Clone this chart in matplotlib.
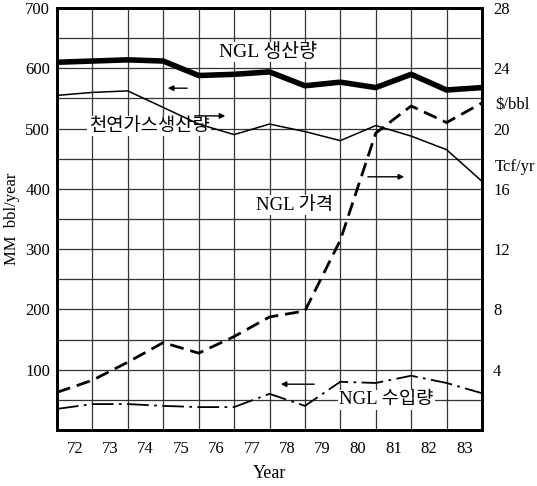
import numpy as np
import matplotlib
matplotlib.use('Agg')
import matplotlib.pyplot as plt
import matplotlib.transforms as mtransforms

# datos (posiciones en los limites entre años)
years = [71.5, 72.5, 73.5, 74.5, 75.5, 76.5, 77.5, 78.5, 79.5, 80.5, 81.5, 82.5, 83.5]
year_labels = ['72', '73', '74', '75', '76', '77', '78', '79', '80', '81', '82', '83']

# NGL 생산량 (MM bbl/year, eje izquierdo)
ngl_prod = [610, 612, 614, 612, 588, 590, 594, 571, 577, 568, 590, 564, 568]
# 천연가스생산량 (Tcf/yr, eje derecho)
gas_prod = [22.2, 22.4, 22.5, 21.4, 20.3, 19.6, 20.3, 19.8, 19.2, 20.2, 19.5, 18.6, 16.5]
# NGL 가격 ($/bbl, eje derecho)
ngl_price = [2.5, 3.3, 4.5, 5.8, 5.1, 6.2, 7.5, 7.9, 12.6, 19.7, 21.5, 20.4, 21.7]
# NGL 수입량 (MM bbl/year, eje izquierdo)
ngl_imports = [35, 43, 43, 40, 38, 38, 60, 40, 80, 78, 90, 78, 61]

left_ticks = [100, 200, 300, 400, 500, 600, 700]
right_ticks = [4, 8, 12, 16, 20, 24, 28]

serif = ['Liberation Serif', 'Noto Sans CJK KR']
plt.rcParams['font.family'] = serif

fig = plt.figure(figsize=(5.37, 4.86), dpi=100)
ax = fig.add_axes([57 / 537, 56 / 486, 425 / 537, 422 / 486])

ax.set_xlim(71.5, 83.5)
ax.set_ylim(0, 700)

# grilla
ax.set_xticks(np.arange(71.5, 83.6, 1.0))
ax.set_xticklabels([])
ax.set_xticks([float(y) for y in year_labels], minor=True)
ax.set_xticklabels(year_labels, minor=True, fontsize=12)
ax.set_yticks(np.arange(0, 701, 50))
ax.set_yticklabels(['' if v not in left_ticks else str(v) for v in range(0, 701, 50)], fontsize=12)
ax.tick_params(axis='x', which='both', length=0, pad=8)
ax.tick_params(axis='y', length=0, pad=5)
ax.grid(True, color='#333333', linewidth=0.9)
for s in ax.spines.values():
    s.set_linewidth(2)

ax.set_ylabel('MM  bbl/year', fontsize=12)
ax.set_xlabel('Year', fontsize=13, labelpad=6)

ax2 = ax.twinx()
ax2.set_ylim(0, 28)
ax2.set_yticks(right_ticks)
ax2.set_yticklabels([str(v) for v in right_ticks], fontsize=12)
ax2.tick_params(axis='y', length=0, pad=8)
for s in ax2.spines.values():
    s.set_linewidth(2)

# lineas
ax.plot(years, ngl_prod, color='black', linewidth=4, solid_joinstyle='round', zorder=3)
ax2.plot(years, gas_prod, color='black', linewidth=1.1, zorder=6)
ax2.plot(years, ngl_price, color='black', linewidth=2, linestyle=(0, (5, 2.5)), zorder=3)
ax.plot(years, ngl_imports, color='black', linewidth=1.3, linestyle=(0, (12, 3, 1.5, 3)), zorder=3)

# textos
box = dict(facecolor='white', edgecolor='none', pad=1)
ax2.text(77.45, 627 / 25, 'NGL 생산량', fontsize=14, ha='center', va='center', bbox=box, zorder=5)
ax2.text(74.1, 504 / 25, '천연가스생산량', fontsize=13.5, ha='center', va='center', bbox=box, zorder=5)
ax2.text(78.2, 373 / 25, 'NGL 가격', fontsize=13.5, ha='center', va='center', bbox=box, zorder=5)
ax2.text(80.8, 50 / 25, 'NGL 수입량', fontsize=13.5, ha='center', va='center', bbox=box, zorder=5)

arrow = dict(arrowstyle='-|>', color='black', linewidth=1, mutation_scale=8)
ax2.annotate('', xy=(74.55, 567 / 25), xytext=(75.25, 567 / 25), arrowprops=arrow, zorder=5)
ax2.annotate('', xy=(76.33, 521 / 25), xytext=(75.31, 521 / 25), arrowprops=arrow, zorder=5)
ax2.annotate('', xy=(81.38, 420 / 25), xytext=(80.2, 420 / 25), arrowprops=arrow, zorder=5)
ax2.annotate('', xy=(77.74, 76 / 25), xytext=(78.84, 76 / 25), arrowprops=arrow, zorder=5)

# unidades del eje derecho
trans = mtransforms.blended_transform_factory(ax2.transAxes, ax2.transData)
ax2.text(1.03, 539 / 25, '$/bbl', transform=trans, fontsize=12, ha='left', va='center')
ax2.text(1.03, 436 / 25, 'Tcf/yr', transform=trans, fontsize=12, ha='left', va='center')

fig.savefig('out.png', dpi=100)
